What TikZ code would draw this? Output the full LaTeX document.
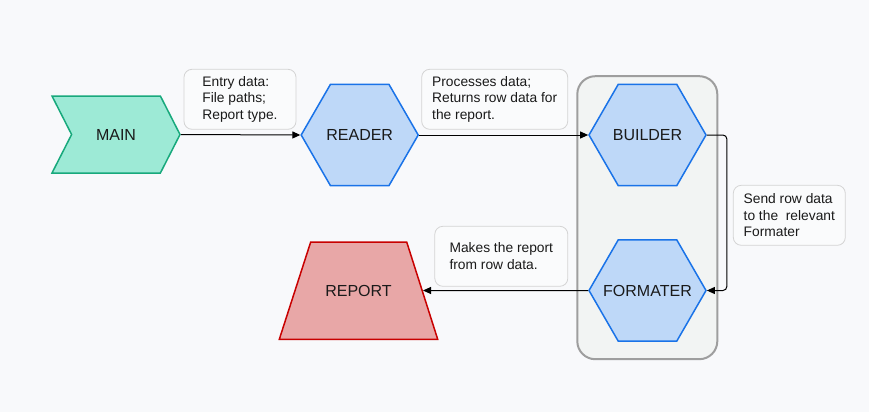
\documentclass[tikz,border=0pt]{standalone}
\usepackage{fontspec}
\setmainfont{Liberation Sans}
\usetikzlibrary{arrows.meta,shapes.geometric,shapes.symbols}
\definecolor{bgcol}{HTML}{F8F9FB}
\definecolor{mainfill}{HTML}{9DEAD6}
\definecolor{mainline}{HTML}{18A97C}
\definecolor{hexfill}{HTML}{BED8F8}
\definecolor{hexline}{HTML}{1A73E8}
\definecolor{repfill}{HTML}{E8A7A7}
\definecolor{repline}{HTML}{C80000}
\definecolor{groupfill}{HTML}{F2F4F3}
\definecolor{groupline}{HTML}{9E9E9E}
\definecolor{notefill}{HTML}{FAFBFC}
\definecolor{noteline}{HTML}{D4D4D4}
\definecolor{txt}{HTML}{1A1A1A}
\tikzset{
  shapefont/.style={font=\fontsize{16}{19}\selectfont, text=txt},
  stage/.style={
    regular polygon,
    regular polygon sides=6,
    minimum size=117pt,
    inner sep=-20pt,
    draw=hexline, fill=hexfill,
    line width=1.5pt,
    shapefont
  },
  output/.style={draw=repline, fill=repfill, line width=1.5pt},
  note/.style={
    draw=noteline, fill=notefill,
    rounded corners=8pt,
    line width=0.8pt,
    align=left, inner sep=0pt,
    minimum height=60pt,
    text=txt,
    font=\fontsize{13.8}{16.7}\selectfont
  },
  flow/.style={-{Triangle[length=8pt,width=7pt]}, line width=1pt}
}

\begin{document}
\begin{tikzpicture}[x=1pt,y=-1pt]

  \fill[bgcol] (0,0) rectangle (869,412);
  \useasboundingbox (0,0) rectangle (869,412);

  % group around builder and formater
  \node[draw=groupline, fill=groupfill, line width=2pt,
        rounded corners=18pt,
        minimum width=140pt, minimum height=283pt]
    (group) at (647.3,217.7) {};

  % shapes
  \node[signal, signal to=east, signal from=west,
        signal pointer angle=126,
        minimum width=128pt, minimum height=77pt, inner sep=0pt,
        draw=mainline, fill=mainfill, line width=1.5pt, shapefont]
    (main) at (116,134.5) {MAIN};

  \node[stage] (reader) at (359.7,135) {READER};
  \node[stage] (builder) at (647.5,135) {BUILDER};
  \node[stage] (formater) at (647.5,290.5) {FORMATER};

  % report trapezium
  \draw[output] (310.7,242) -- (406.7,242) -- (437.7,339.3)
    -- (279.3,339.3) -- cycle;
  \node[shapefont] (report) at (358.5,290.7) {REPORT};
  \coordinate (reportin) at (423,290.5);

  % notes
  \node[note, minimum width=112pt] (entry) at (240,99.3)
    {Entry data:\\File paths;\\Report type.};
  \node[note, minimum width=146pt] (process) at (494.7,99.3)
    {Processes data;\\Returns row data for\\the report.};
  \node[note, minimum width=112pt] (send) at (789.3,215.3)
    {Send row data\\to the\ \ relevant\\Formater};
  \node[note, minimum width=133pt] (makes) at (501.3,256.3)
    {Makes the report\\from row data.};

  % connectors
  \draw[flow] (main.east) -- (reader.west);
  \draw[flow] (reader.east) -- (builder.west);
  \draw[flow, rounded corners=4pt] (builder.east) -- ++(20,0) |- (formater.east);
  \draw[flow] (formater.west) -- (reportin);

\end{tikzpicture}
\end{document}
